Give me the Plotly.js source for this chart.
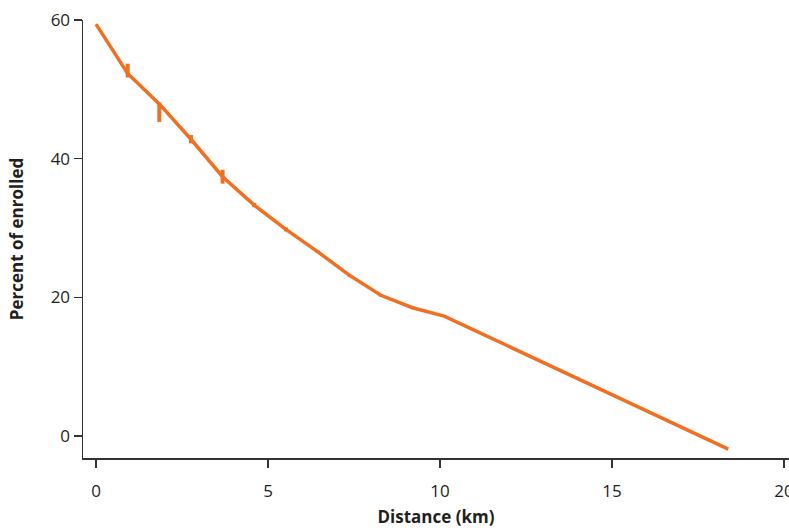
<!DOCTYPE html>
<html>
<head>
<meta charset="utf-8">
<script src="https://cdn.plot.ly/plotly-3.0.1.min.js"></script>
<style>html,body{margin:0;padding:0;background:#fff;} #chart{width:789px;height:528px;}</style>
</head>
<body>
<div id="chart"></div>
<script>
const distanceKm = [0, 0.92, 1.84, 2.76, 3.68, 4.6, 5.52, 6.44, 7.36, 8.28, 9.2, 10.12, 18.38];
const percentEnrolled = [59.4, 52.3, 47.9, 42.8, 37.4, 33.3, 29.8, 26.6, 23.2, 20.3, 18.5, 17.3, -1.9];
const errPlus = [0, 1.4, 0.2, 0.6, 1.0, 0.3, 0.3, 0.2, 0.2, 0.2, 0.2, 0, 0];
const errMinus = [0, 0.6, 2.6, 0.6, 1.0, 0.3, 0.3, 0.2, 0.2, 0.2, 0.2, 0, 0];
const xTicks = [0, 5, 10, 15, 20];
const yTicks = [0, 20, 40, 60];

const orange = '#F26F21';
const trace = {
  x: distanceKm, y: percentEnrolled, type: 'scatter', mode: 'lines',
  line: {color: orange, width: 3.5},
  error_y: {type: 'data', symmetric: false, array: errPlus, arrayminus: errMinus,
            color: orange, thickness: 4, width: 0},
  hoverinfo: 'skip'
};
const fam = '"Open Sans", "Noto Sans", sans-serif';
const txt = '#231F20';
const layout = {
  width: 789, height: 528,
  margin: {l: 83, r: 0, t: 20, b: 70},
  paper_bgcolor: '#fff', plot_bgcolor: '#fff',
  showlegend: false,
  font: {family: fam, color: txt},
  xaxis: {
    range: [-0.378, 20.145], tickvals: xTicks, ticktext: xTicks.map(String),
    ticklabeloverflow: 'allow', ticklabelstandoff: 9,
    showgrid: false, zeroline: false, showline: true, linecolor: '#333', linewidth: 1.5,
    ticks: 'outside', ticklen: 8, tickwidth: 1.2, tickcolor: '#333',
    tickfont: {size: 17, family: fam, color: txt},
    title: {text: '<b>Distance (km)</b>', font: {size: 17, family: fam, color: txt}, standoff: 12}
  },
  yaxis: {
    range: [-3.17, 60], tickvals: yTicks, ticktext: yTicks.map(String),
    showgrid: false, zeroline: false, showline: true, linecolor: '#333', linewidth: 1.5,
    ticks: 'outside', ticklen: 8, tickwidth: 1.2, tickcolor: '#333',
    tickfont: {size: 17, family: fam, color: txt},
    title: {text: '<b>Percent of enrolled</b>', font: {size: 17, family: fam, color: txt}, standoff: 22}
  }
};
Plotly.newPlot('chart', [trace], layout, {staticPlot: true, displayModeBar: false});
</script>
</body>
</html>
